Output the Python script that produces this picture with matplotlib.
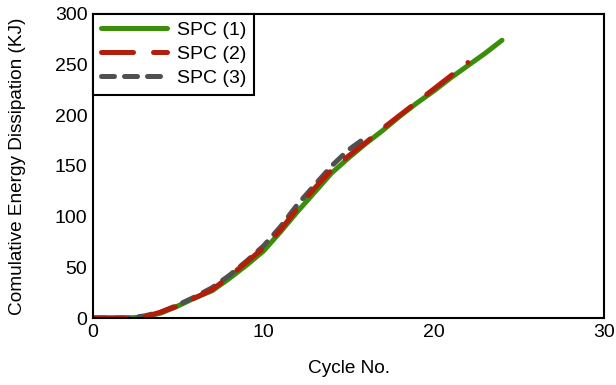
import matplotlib
matplotlib.use("Agg")
import matplotlib.pyplot as plt

plt.rcParams['font.family'] = ['Liberation Sans', 'DejaVu Sans']

cycles1 = list(range(0, 25))
spc1 = [0, 0, 0, 1, 5, 12, 20, 27, 39, 52, 66, 85, 105, 124, 143, 158, 172, 185, 199, 212, 224, 237, 249, 261, 274]
cycles2 = list(range(0, 23))
spc2 = [0, 0, 0, 1, 6, 12, 20, 28, 41, 55, 69, 87, 108, 128, 146, 160, 173, 187, 200, 213, 226, 239, 252]
cycles3 = list(range(0, 17))
spc3 = [0, 0, 0, 2, 6, 13, 21, 30, 42, 56, 71, 90, 112, 131, 150, 166, 178]

fig = plt.figure(figsize=(6.16, 3.85), dpi=100)
ax = fig.add_axes([0.151, 0.174, 0.830, 0.790])

ax.plot(cycles1, spc1, color='#3a8e0a', lw=3.6, solid_capstyle='round', label='SPC (1)')
ax.plot(cycles3, spc3, color='#505050', lw=3.6, dashes=(2.6, 2.0), dash_capstyle='round', label='SPC (3)')
ax.plot(cycles2, spc2, color='#b31e0a', lw=3.6, dashes=(6.4, 4.0), dash_capstyle='round', label='SPC (2)')

ax.set_xlim(0, 30)
ax.set_ylim(0, 300)
ax.set_xticks([0, 10, 20, 30])
ax.set_yticks([0, 50, 100, 150, 200, 250, 300])
ax.tick_params(length=0, labelsize=14)
ax.tick_params(axis='x', pad=4)
ax.tick_params(axis='y', pad=4)
for s in ax.spines.values():
    s.set_linewidth(1.5)

ax.set_xlabel('Cycle No.', fontsize=13.7, labelpad=14)
ax.set_ylabel('Comulative Energy Dissipation (KJ)', fontsize=13.7, labelpad=21)

handles, labels = ax.get_legend_handles_labels()
order = [0, 2, 1]
leg = ax.legend([handles[i] for i in order], [labels[i] for i in order],
                loc='upper left', fontsize=14, frameon=True, fancybox=False,
                edgecolor='black', handlelength=3.4, borderaxespad=0,
                borderpad=0.4, labelspacing=0.32, handletextpad=0.5, framealpha=1)
leg.get_frame().set_linewidth(1.5)

fig.savefig('out.png', dpi=100)
